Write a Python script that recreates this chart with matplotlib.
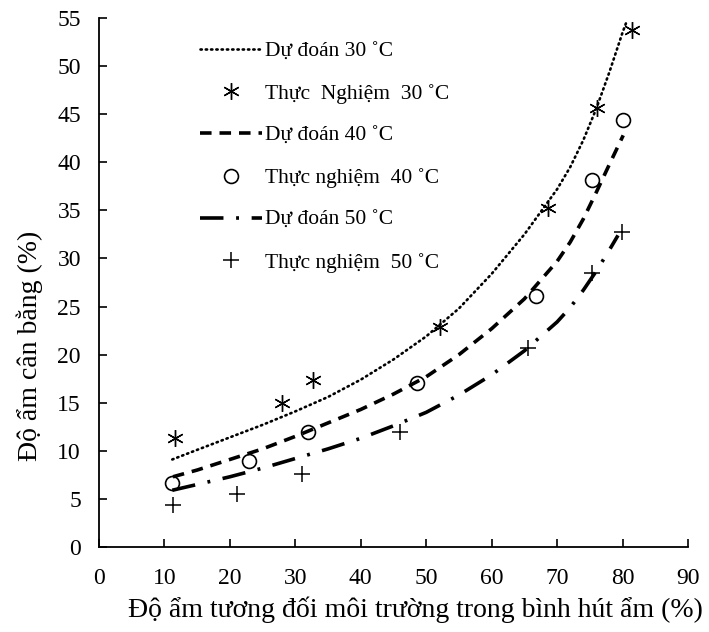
import matplotlib
matplotlib.use("Agg")
import matplotlib.pyplot as plt

plt.rcParams['font.family'] = ['Liberation Serif', 'DejaVu Serif']

# Experimental data
x30 = [11.6, 28.0, 32.7, 52.1, 68.6, 76.1, 81.4]
y30 = [11.3, 15.0, 17.4, 22.9, 35.2, 45.6, 53.8]
x40 = [11.2, 22.9, 31.9, 48.6, 66.8, 75.3, 80.1]
y40 = [6.7, 8.9, 12.0, 17.0, 26.1, 38.2, 44.4]
x50 = [11.3, 21.1, 31.0, 46.0, 65.5, 75.3, 79.9]
y50 = [4.4, 5.5, 7.6, 12.0, 20.7, 28.5, 32.7]

# Predicted curves
px30 = [11.2, 15, 20, 25, 30, 35, 40, 45, 50, 55, 60, 65, 70, 72, 74, 76, 78, 80, 80.6]
py30 = [9.1, 10.1, 11.4, 12.7, 14.1, 15.6, 17.4, 19.5, 21.9, 24.8, 28.4, 32.5, 37.2,
        39.5, 42.3, 45.6, 49.4, 53.5, 54.6]
px40 = [11.3, 15, 20, 25, 30, 35, 40, 45, 50, 55, 60, 65, 70, 72, 74, 76, 78, 80.1]
py40 = [7.3, 8.0, 9.1, 10.2, 11.5, 12.9, 14.3, 15.9, 17.7, 20.0, 22.7, 25.8, 29.7,
        31.7, 34.1, 36.9, 39.8, 42.8]
px50 = [11.2, 15, 20, 25, 30, 35, 40, 45, 50, 55, 60, 65, 70, 72, 74, 76, 78, 79.3]
py50 = [5.9, 6.5, 7.3, 8.2, 9.2, 10.2, 11.3, 12.6, 14.0, 15.8, 17.9, 20.4, 23.4,
        24.9, 26.7, 28.7, 30.9, 32.4]

xticks = list(range(0, 91, 10))
yticks = list(range(0, 56, 5))

fig = plt.figure(figsize=(7.09, 6.32), dpi=100)
ax = fig.add_axes([0.1396, 0.1345, 0.8308, 0.837])

ax.plot(px30, py30, color='black', lw=1.9, linestyle=(0, (0.5, 1.5)), dash_capstyle='round',
        label='Dự đoán 30 ˚C')
ax.plot(x30, y30, linestyle='none', marker=(6, 2, 0), ms=12, mec='black', mew=1.0,
        color='black', label='Thực  Nghiệm  30 ˚C')
ax.plot(px40, py40, color='black', lw=2.6, linestyle=(0, (3.2, 2.2)),
        label='Dự đoán 40 ˚C')
ax.plot(x40, y40, linestyle='none', marker='o', ms=10, mfc='none', mec='black', mew=1.2,
        label='Thực nghiệm  40 ˚C')
ax.plot(px50, py50, color='black', lw=2.6, linestyle=(0, (6.5, 3.5, 0.8, 3.5)),
        label='Dự đoán 50 ˚C')
ax.plot(x50, y50, linestyle='none', marker='+', ms=12, mec='black', mew=1.1,
        label='Thực nghiệm  50 ˚C')

ax.set_xlim(0, 90)
ax.set_ylim(0, 55)
ax.set_xticks(xticks)
ax.set_yticks(yticks)
ax.tick_params(direction='in', length=6, width=1.2, labelsize=17)
ax.tick_params(axis='y', pad=13)
ax.tick_params(axis='x', pad=15)
for s in ['top', 'right']:
    ax.spines[s].set_visible(False)
for s in ['left', 'bottom']:
    ax.spines[s].set_linewidth(1.3)

ax.set_xlabel('Độ ẩm tương đối môi trường trong bình hút ẩm (%)', fontsize=20)
ax.set_ylabel('Độ ẩm cân bằng (%)', fontsize=20)
ax.xaxis.label.set_va('center')
ax.yaxis.label.set_va('center')
ax.xaxis.set_label_coords(0.537, -0.119)
ax.yaxis.set_label_coords(-0.117, 0.38)

ax.legend(loc='upper left', bbox_to_anchor=(0.171, 0.956), frameon=False, fontsize=15.5,
          borderpad=0, borderaxespad=0, labelspacing=1.03, handlelength=2.9,
          handletextpad=0.15)

fig.savefig('out.png', dpi=100)
